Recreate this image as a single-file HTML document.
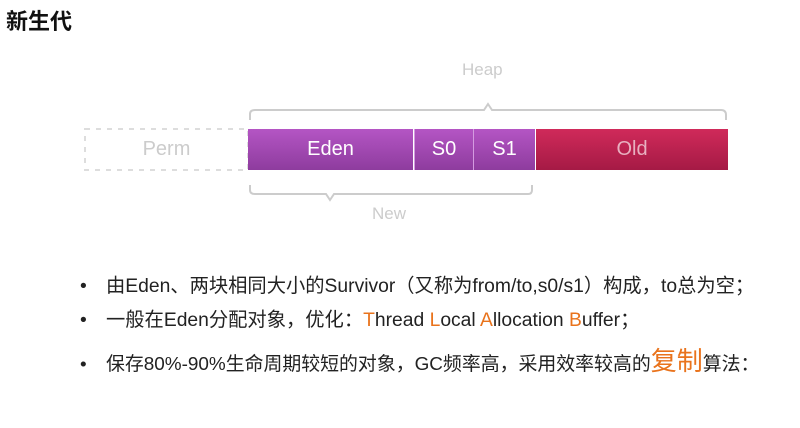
<!DOCTYPE html>
<html><head><meta charset="utf-8"><style>
body{margin:0;width:800px;height:428px;background:#fff;position:relative;overflow:hidden;font-family:"Liberation Sans","Noto Sans CJK SC",sans-serif}
.a{position:absolute}
.box{position:absolute;top:129px;height:41px;color:#fff;font-size:20px;display:flex;align-items:center;justify-content:center}
.p{background:linear-gradient(#b455c4,#8e3c9e)}
.li{position:absolute;left:80px;font-size:19.3px;color:#222;white-space:nowrap}
.li span.b{display:inline-block;width:26px}
.o{color:#e9731c}
</style></head><body>
<div class="a" style="left:6px;top:4px;font-size:22px;font-weight:bold;color:#111">新生代</div>
<div class="a" style="left:462px;top:60px;font-size:17px;color:#ccc">Heap</div>
<svg class="a" style="left:0;top:0" width="800" height="240">
<path d="M250,120 V114 Q250,110 255,110 H484 L488,104 L492,110 H721 Q726,110 726,115 V120" fill="none" stroke="#ccc" stroke-width="2"/>
<path d="M250,185 V190 Q250,194 255,194 H326 L330,200 L334,194 H528 Q532,194 532,190 V185" fill="none" stroke="#ccc" stroke-width="2"/>
<rect x="85" y="129" width="163" height="41" fill="none" stroke="#ddd" stroke-width="2" stroke-dasharray="5,6"/>
</svg>
<div class="box" style="left:85px;width:163px;color:#ccc">Perm</div>
<div class="box p" style="left:248px;width:165px">Eden</div>
<div class="box p" style="left:414px;width:58px;border-left:1px solid #d49be0">S0</div>
<div class="box p" style="left:473px;width:61px;border-left:1px solid #d49be0">S1</div>
<div class="box" style="left:536px;width:192px;background:linear-gradient(#d02a5a,#a51a45);color:#e8b0c0">Old</div>
<div class="a" style="left:372px;top:204px;font-size:17px;color:#ccc">New</div>
<div class="li" style="top:270px"><span class="b">•</span>由Eden、两块相同大小的Survivor（又称为from/to,s0/s1）构成，to总为空；</div>
<div class="li" style="top:304px"><span class="b">•</span>一般在Eden分配对象，优化：<span class="o">T</span>hread <span class="o">L</span>ocal <span class="o">A</span>llocation <span class="o">B</span>uffer；</div>
<div class="li" style="top:349px;font-size:18.9px"><span class="b">•</span>保存80%-90%生命周期较短的对象，GC频率高，采用效率较高的<span class="o" style="font-size:26px;line-height:18px">复制</span>算法：</div>
</body></html>
